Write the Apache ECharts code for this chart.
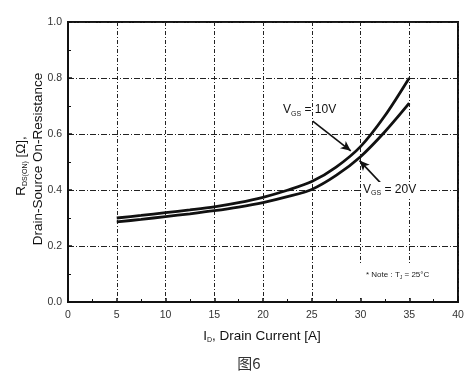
<!DOCTYPE html>
<html><head><meta charset="utf-8">
<script src="https://cdn.jsdelivr.net/npm/echarts@6/dist/echarts.min.js"></script>
<style>html,body{margin:0;padding:0;background:#fff}#c{width:472px;height:382px}</style>
</head><body><div id="c"></div>
<script>
const currentA = [5, 7.5, 10, 12.5, 15, 17.5, 20, 22.5, 25, 27.5, 30, 32.5, 35];
const rdsVgs10 = [0.300, 0.309, 0.319, 0.329, 0.340, 0.355, 0.374, 0.399, 0.430, 0.482, 0.555, 0.665, 0.800];
const rdsVgs20 = [0.286, 0.295, 0.305, 0.315, 0.326, 0.339, 0.355, 0.376, 0.402, 0.452, 0.519, 0.608, 0.710];
const xTicks = [0, 5, 10, 15, 20, 25, 30, 35, 40];
const yTicks = ['0.0', '0.2', '0.4', '0.6', '0.8', '1.0'];

const F = 'Liberation Sans, Arial, sans-serif';
const chart = echarts.init(document.getElementById('c'), null, {renderer: 'canvas'});
const pairs = (ys) => currentA.map((x, i) => [x, ys[i]]);
const arrowStyle = {color: '#111', width: 1.6, type: 'solid'};

chart.setOption({
  animation: false,
  backgroundColor: '#fff',
  grid: {left: 68, right: 14, top: 22, bottom: 80, show: true, borderColor: '#111', borderWidth: 2},
  xAxis: {
    type: 'value', min: 0, max: 40, interval: 5,
    axisLine: {show: true, lineStyle: {color: '#111', width: 2}},
    axisTick: {show: true, inside: true, length: 4, lineStyle: {color: '#111', width: 1.5}},
    minorTick: {show: true, splitNumber: 2, length: 3, lineStyle: {color: '#111'}},
    axisLabel: {color: '#333', fontFamily: F, fontSize: 10.5, margin: 8,
      formatter: v => xTicks.includes(v) ? String(v) : ''},
    splitLine: {show: true, lineStyle: {color: '#222', width: 1, type: [4, 2, 1, 2]}}
  },
  yAxis: {
    type: 'value', min: 0, max: 1, interval: 0.2,
    axisLine: {show: true, lineStyle: {color: '#111', width: 2}},
    axisTick: {show: true, inside: true, length: 4, lineStyle: {color: '#111', width: 1.5}},
    minorTick: {show: true, splitNumber: 2, length: 3, lineStyle: {color: '#111'}},
    axisLabel: {color: '#333', fontFamily: F, fontSize: 10.5, margin: 6,
      formatter: v => yTicks[Math.round(v / 0.2)] || ''},
    splitLine: {show: true, lineStyle: {color: '#222', width: 1, type: [6, 2, 1, 2]}}
  },
  series: [
    {type: 'line', name: 'VGS=10V', data: pairs(rdsVgs10), smooth: 0.3, symbol: 'none',
     lineStyle: {color: '#111', width: 2.8},
     markLine: {silent: true, symbol: ['none', 'arrow'], symbolSize: [7, 10], label: {show: false},
       lineStyle: arrowStyle,
       data: [[{coord: [25.1, 0.646]}, {coord: [29.0, 0.540]}]]}},
    {type: 'line', name: 'VGS=20V', data: pairs(rdsVgs20), smooth: 0.3, symbol: 'none',
     lineStyle: {color: '#111', width: 2.8},
     markLine: {silent: true, symbol: ['none', 'arrow'], symbolSize: [7, 10], label: {show: false},
       lineStyle: arrowStyle,
       data: [[{coord: [32.2, 0.420]}, {coord: [29.9, 0.505]}]]}}
  ],
  graphic: [
    {type: 'text', left: 283, top: 104, style: {
      text: '{a|V}{s|GS}{a| = 10V}', rich: {
        a: {fontFamily: F, fontSize: 12, fill: '#111'},
        s: {fontFamily: F, fontSize: 7, fill: '#111', padding: [8, 0, 0, 0]}}}},
    {type: 'text', left: 362, top: 182, z: 10, style: {
      text: '{a|V}{s|GS}{a| = 20V}', backgroundColor: '#fff', padding: [0, 3, 0, 1], rich: {
        a: {fontFamily: F, fontSize: 12, fill: '#111'},
        s: {fontFamily: F, fontSize: 7, fill: '#111', padding: [8, 0, 0, 0]}}}},
    {type: 'text', left: 356, top: 264, z: 10, style: {
      text: '{a|* Note : T}{s|J}{a| = 25°C}', backgroundColor: '#fff', padding: [6, 6, 16, 10], rich: {
        a: {fontFamily: F, fontSize: 8, fill: '#222'},
        s: {fontFamily: F, fontSize: 5, fill: '#222', padding: [5, 0, 0, 0]}}}},
    {type: 'text', x: 21, y: 166, rotation: Math.PI / 2, style: {
      text: '{a|R}{s|DS(ON)}{a| [Ω],}', align: 'center', verticalAlign: 'middle', rich: {
        a: {fontFamily: F, fontSize: 13.5, fill: '#111'},
        s: {fontFamily: F, fontSize: 7, fill: '#111', padding: [9, 0, 0, 0]}}}},
    {type: 'text', x: 38, y: 159, rotation: Math.PI / 2, style: {
      text: 'Drain-Source On-Resistance', align: 'center', verticalAlign: 'middle',
      font: '13.5px ' + F, fill: '#111'}},
    {type: 'text', x: 262, y: 336, style: {
      text: '{a|I}{s|D}{a|, Drain Current [A]}', align: 'center', verticalAlign: 'middle', rich: {
        a: {fontFamily: F, fontSize: 13.5, fill: '#111'},
        s: {fontFamily: F, fontSize: 7, fill: '#111', padding: [9, 0, 0, 0]}}}},
    {type: 'text', x: 249, y: 363, style: {
      text: '图6', align: 'center', verticalAlign: 'middle',
      font: '15px "Noto Sans CJK SC"', fill: '#333'}}
  ]
});
</script></body></html>
